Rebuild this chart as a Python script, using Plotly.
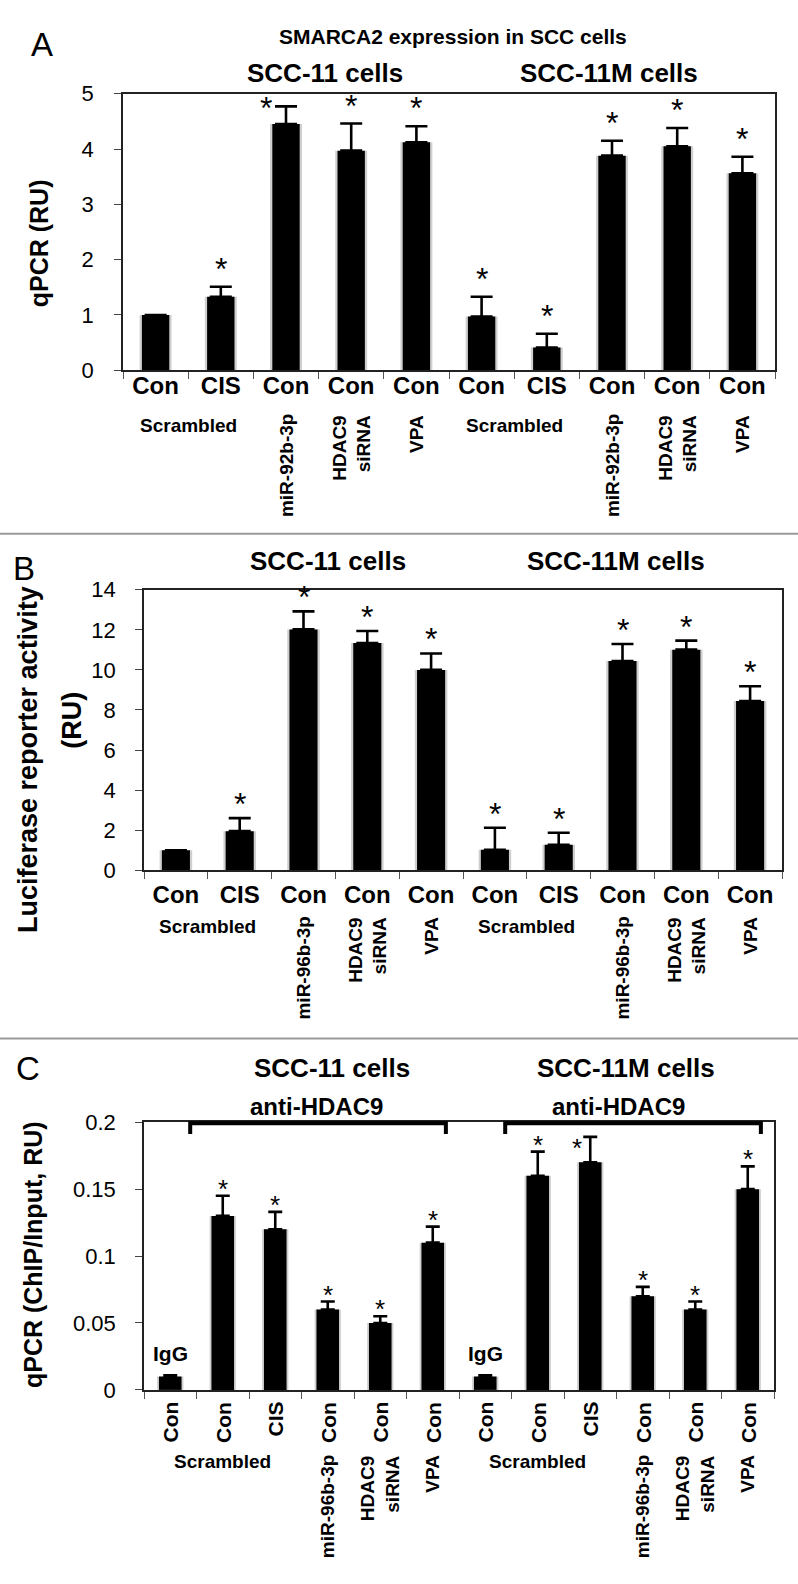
import plotly.graph_objects as go

W, H = 798, 1584
FONT = "Liberation Sans, Arial, Helvetica, sans-serif"

# ---------------- data ----------------
# Panel A
a_title = "SMARCA2 expression in SCC cells"
a_cells = ["SCC-11 cells", "SCC-11M cells"]
a_cats = ["Con", "CIS", "Con", "Con", "Con", "Con", "CIS", "Con", "Con", "Con"]
a_vals = [1.00, 1.33, 4.45, 3.97, 4.12, 0.97, 0.41, 3.88, 4.05, 3.56]
a_err = [0.00, 0.18, 0.32, 0.49, 0.29, 0.36, 0.25, 0.27, 0.33, 0.30]
a_sig = [0, 1, 1, 1, 1, 1, 1, 1, 1, 1]
a_treat = ["Scrambled", "miR-92b-3p", "HDAC9<br>siRNA", "VPA",
           "Scrambled", "miR-92b-3p", "HDAC9<br>siRNA", "VPA"]
a_treat_bars = [[0, 1], [2], [3], [4], [5, 6], [7], [8], [9]]
a_yticks = [0, 1, 2, 3, 4, 5]
a_ylabel = "qPCR (RU)"

# Panel B
b_cells = ["SCC-11 cells", "SCC-11M cells"]
b_cats = ["Con", "CIS", "Con", "Con", "Con", "Con", "CIS", "Con", "Con", "Con"]
b_vals = [1.00, 1.95, 12.02, 11.34, 10.00, 1.02, 1.27, 10.44, 11.01, 8.45]
b_err = [0.00, 0.65, 0.90, 0.60, 0.82, 1.10, 0.60, 0.85, 0.45, 0.73]
b_sig = [0, 1, 1, 1, 1, 1, 1, 1, 1, 1]
b_treat = ["Scrambled", "miR-96b-3p", "HDAC9<br>siRNA", "VPA",
           "Scrambled", "miR-96b-3p", "HDAC9<br>siRNA", "VPA"]
b_treat_bars = [[0, 1], [2], [3], [4], [5, 6], [7], [8], [9]]
b_yticks = [0, 2, 4, 6, 8, 10, 12, 14]
b_ylabel = ["Luciferase reporter activity", "(RU)"]

# Panel C
c_cells = ["SCC-11 cells", "SCC-11M cells"]
c_ab = ["anti-HDAC9", "anti-HDAC9"]
c_ab_bars = [[1, 5], [7, 11]]
c_cats = ["Con", "Con", "CIS", "Con", "Con", "Con",
          "Con", "Con", "CIS", "Con", "Con", "Con"]
c_vals = [0.010, 0.130, 0.120, 0.060, 0.050, 0.110,
          0.010, 0.160, 0.170, 0.070, 0.060, 0.150]
c_err = [0.001, 0.015, 0.013, 0.006, 0.005, 0.012,
         0.001, 0.018, 0.019, 0.007, 0.006, 0.017]
c_sig = [0, 1, 1, 1, 1, 1, 0, 1, 1, 1, 1, 1]
c_ctrl = ["IgG", "IgG"]
c_ctrl_bars = [0, 6]
c_treat = ["Scrambled", "miR-96b-3p", "HDAC9<br>siRNA", "VPA",
           "Scrambled", "miR-96b-3p", "HDAC9<br>siRNA", "VPA"]
c_treat_bars = [[0, 1, 2], [3], [4], [5], [6, 7, 8], [9], [10], [11]]
c_yticks = [0, 0.05, 0.1, 0.15, 0.2]
c_yticktext = ["0", "0.05", "0.1", "0.15", "0.2"]
c_ylabel = "qPCR (ChIP/Input, RU)"


# ---------------- helpers ----------------
def px(x):
    return x / W


def py(y):
    return 1 - y / H


fig = go.Figure()
annotations = []
shapes = []


def add_panel(k, cats, vals, err, sig, x0, x1, y0, y1, yr, yticks, yticktext,
              bar_w, cap_w, tick_font, show_xlabels, xstand, ystand, star_size,
              star_shift, star_adj):
    xa = "x" if k == 1 else f"x{k}"
    ya = "y" if k == 1 else f"y{k}"
    n = len(cats)
    idx = list(range(n))
    # soft grey halo (like the blurred edges of the printed bars)
    fig.add_trace(go.Bar(
        x=idx, y=vals, width=bar_w + 0.07,
        marker=dict(color="#cfcfcf", line=dict(width=0)),
        xaxis=xa, yaxis=ya, showlegend=False, hoverinfo="skip"))
    fig.add_trace(go.Bar(
        x=idx, y=vals, width=bar_w, marker=dict(color="black", line=dict(width=0)),
        error_y=dict(type="data", symmetric=False, array=err,
                     arrayminus=[0] * n, color="black", thickness=2.6,
                     width=cap_w),
        xaxis=xa, yaxis=ya, showlegend=False, hoverinfo="skip"))
    axis_line = dict(showline=True, linecolor="#222", linewidth=1.5, mirror=True,
                     showgrid=False, zeroline=False)
    fig.layout[xa.replace("x", "xaxis")] = dict(
        domain=[px(x0), px(x1)], range=[-0.5, n - 0.5], anchor=ya,
        tickmode="array", tickvals=idx,
        ticktext=[f"<b>{c}</b>" for c in cats], showticklabels=show_xlabels,
        ticks="", tickfont=dict(size=tick_font, color="black"),
        ticklabelstandoff=xstand,
        minor=dict(tick0=-0.5, dtick=1, ticks="outside", ticklen=7,
                   tickcolor="#555", tickwidth=1.3),
        fixedrange=True, **axis_line)
    fig.layout[ya.replace("y", "yaxis")] = dict(
        domain=[py(y1), py(y0)], range=yr, anchor=xa,
        tickmode="array", tickvals=yticks, ticktext=yticktext,
        ticks="outside", ticklen=7, tickcolor="#444", tickwidth=1.3,
        tickfont=dict(size=22, color="black"), ticklabelstandoff=ystand,
        fixedrange=True, **axis_line)
    for i in idx:
        if sig[i]:
            dx, dy = star_adj.get(i, (0, 0))
            annotations.append(dict(
                x=i + dx, y=vals[i] + err[i], xref=xa, yref=ya,
                text="*", showarrow=False, xanchor="center", yanchor="bottom",
                yshift=star_shift + dy, font=dict(size=star_size, color="black")))
    return xa, ya


def treat_labels(xa, labels, bars, y_h, y_rot, size):
    for lab, b in zip(labels, bars):
        xc = sum(b) / len(b)
        if len(b) > 1:
            annotations.append(dict(x=xc, y=py(y_h), xref=xa, yref="paper",
                                    text=f"<b>{lab}</b>", showarrow=False,
                                    xanchor="center", yanchor="middle",
                                    font=dict(size=size, color="black")))
        else:
            annotations.append(dict(x=xc, y=py(y_rot), xref=xa, yref="paper",
                                    text=f"<b>{lab}</b>", showarrow=False,
                                    textangle=-90, xanchor="center",
                                    yanchor="top", align="right",
                                    font=dict(size=size, color="black")))


def text(x, y, t, size, bold=True, **kw):
    annotations.append(dict(x=px(x), y=py(y), xref="paper", yref="paper",
                            text=f"<b>{t}</b>" if bold else t, showarrow=False,
                            xanchor="center", yanchor="middle",
                            font=dict(size=size, color="black"), **kw))


# ---------------- panel A ----------------
xa, ya = add_panel(1, a_cats, a_vals, a_err, a_sig, 123, 775, 83, 364, [0, 5],
                   a_yticks, [str(v) for v in a_yticks], 0.42, 11, 24, True, -7, 16,
                   32, -2, {2: (-0.3, -20)})
treat_labels(xa, a_treat, a_treat_bars, 420, 407, 19)
text(42, 33, "A", 33, bold=False)
text(453, 25, a_title, 21)
text(325, 62, a_cells[0], 26)
text(609, 62, a_cells[1], 26)
text(39, 235, a_ylabel, 25, textangle=-90)

# ---------------- panel B ----------------
xb, yb = add_panel(2, b_cats, b_vals, b_err, b_sig, 144, 782, 587, 872, [0, 14],
                   b_yticks, [str(v) for v in b_yticks], 0.44, 11, 24, True, 2, 15,
                   32, -6, {})
treat_labels(xb, b_treat, b_treat_bars, 929, 917, 19)
text(24, 565, "B", 33, bold=False)
text(328, 558, b_cells[0], 26)
text(616, 558, b_cells[1], 26)
text(28, 760, b_ylabel[0], 27, textangle=-90)
text(72, 720, b_ylabel[1], 27, textangle=-90)

# ---------------- panel C ----------------
xc, yc = add_panel(3, c_cats, c_vals, c_err, c_sig, 144, 774, 1128, 1400, [0, 0.2],
                   c_yticks, c_yticktext, 0.43, 7, 21, False, 0, 15,
                   26, -10, {8: (-0.25, -18)})
# rotated category labels of panel C (Con / CIS), ends aligned just below the axis
for i, lab in enumerate(c_cats):
    annotations.append(dict(x=i, y=py(1410), xref=xc, yref="paper",
                            text=f"<b>{lab}</b>", showarrow=False, textangle=-90,
                            xanchor="center", yanchor="top",
                            font=dict(size=21, color="black")))
treat_labels(xc, c_treat, c_treat_bars, 1473, 1464, 19)
for lab, b in zip(c_ctrl, c_ctrl_bars):
    annotations.append(dict(x=b, y=py(1363), xref=xc, yref="paper",
                            text=f"<b>{lab}</b>", showarrow=False,
                            xanchor="center", yanchor="middle",
                            font=dict(size=21, color="black")))
text(28, 1073, "C", 33, bold=False)
text(332, 1073, c_cells[0], 26)
text(626, 1073, c_cells[1], 26)
text(316, 1112, c_ab[0], 24)
text(618, 1112, c_ab[1], 24)
text(33, 1263, c_ylabel, 25, textangle=-90)
for b0, b1 in c_ab_bars:
    xl, xr = b0 - 0.62, b1 + 0.25
    shapes.append(dict(type="path", xref=xc, yref="paper",
                       path=f"M {xl},{py(1140)} L {xl},{py(1129)} L {xr},{py(1129)} L {xr},{py(1140)}",
                       line=dict(color="black", width=4)))

# separators between panels
for ys in (530, 1043):
    shapes.append(dict(type="line", xref="paper", yref="paper", x0=0, x1=1,
                       y0=py(ys), y1=py(ys), line=dict(color="#9a9a9a", width=2)))

fig.update_layout(
    width=W, height=H, margin=dict(l=0, r=0, t=0, b=0),
    paper_bgcolor="white", plot_bgcolor="white", barmode="overlay",
    font=dict(family=FONT, color="black"),
    annotations=annotations, shapes=shapes, showlegend=False,
)

fig.write_html("out.html", config={"displayModeBar": False},
               post_script="document.body.style.margin='0px';document.body.style.overflow='hidden';")
